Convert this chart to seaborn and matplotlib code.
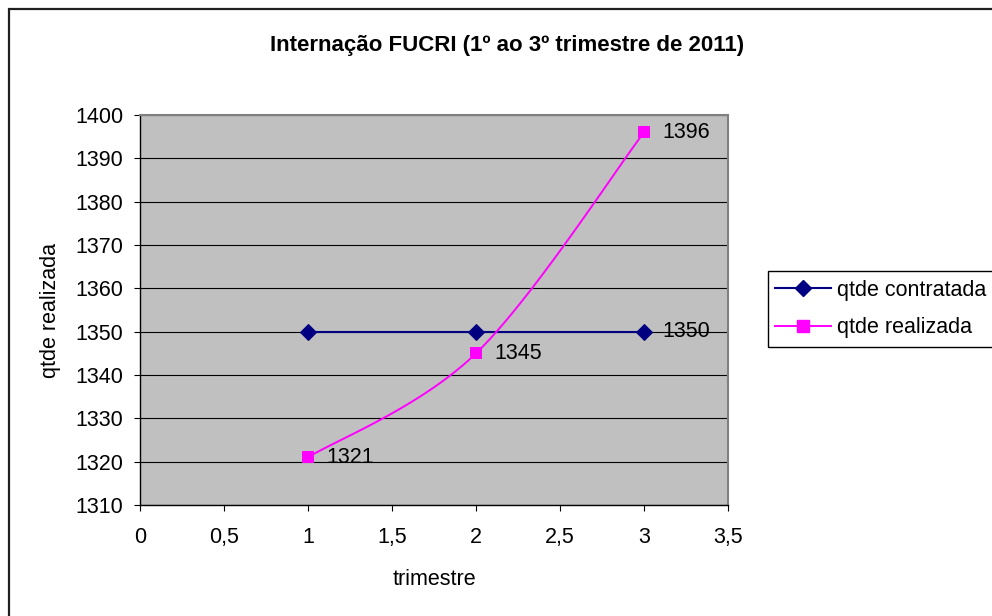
import numpy as np
import pandas as pd
import matplotlib
matplotlib.use("Agg")
import matplotlib.pyplot as plt
import seaborn as sns
from matplotlib.lines import Line2D
from matplotlib.patches import Rectangle
from matplotlib.ticker import FuncFormatter, MultipleLocator

trimestre = [1, 2, 3]
qtde_contratada = [1350, 1350, 1350]
qtde_realizada = [1321, 1345, 1396]
title = "Internação FUCRI (1º ao 3º trimestre de 2011)"

NAVY = "#000080"
PINK = "#FF00FF"
FS = 15.5

plt.rcParams["font.family"] = ["Liberation Sans", "DejaVu Sans"]

df = pd.DataFrame({"trimestre": trimestre,
                   "contratada": qtde_contratada,
                   "realizada": qtde_realizada})


def excel_smooth(xs, ys, n=40):
    # bezier spline like Excel's "smoothed line"
    pts = np.column_stack([xs, ys]).astype(float)
    out = []
    for i in range(len(pts) - 1):
        p0 = pts[max(i - 1, 0)]
        p1 = pts[i]
        p2 = pts[i + 1]
        p3 = pts[min(i + 2, len(pts) - 1)]
        c1 = p1 + (p2 - p0) / 6
        c2 = p2 - (p3 - p1) / 6
        t = np.linspace(0, 1, n)[:, None]
        seg = ((1 - t) ** 3) * p1 + 3 * ((1 - t) ** 2) * t * c1 \
            + 3 * (1 - t) * t ** 2 * c2 + t ** 3 * p2
        out.append(seg)
    seg = np.vstack(out)
    return seg[:, 0], seg[:, 1]


fig = plt.figure(figsize=(9.92, 6.16), dpi=100)
ax = fig.add_axes([140 / 992, 111 / 616, 588 / 992, 390 / 616])
ax.set_facecolor("#C0C0C0")

sns.lineplot(data=df, x="trimestre", y="contratada", ax=ax, color=NAVY,
             marker="D", markersize=8.5, markeredgecolor=NAVY, linewidth=1.5,
             zorder=3)
sx, sy = excel_smooth(df["trimestre"], df["realizada"])
ax.plot(sx, sy, color=PINK, linewidth=1.4, zorder=3)
sns.scatterplot(data=df, x="trimestre", y="realizada", ax=ax, color=PINK,
                marker="s", s=82, edgecolor=PINK, linewidth=0, zorder=4)

for x, y in zip(trimestre, qtde_contratada):
    if x == 3:
        ax.annotate(str(y), (x, y), xytext=(13.5, 0),
                    textcoords="offset points",
                    va="center", ha="left", fontsize=FS, zorder=2)
for x, y in zip(trimestre, qtde_realizada):
    ax.annotate(str(y), (x, y), xytext=(13.5, 0), textcoords="offset points",
                va="center", ha="left", fontsize=FS, zorder=5)

ax.set_xlim(0, 3.5)
ax.set_ylim(1310, 1400)
ax.xaxis.set_major_locator(MultipleLocator(0.5))
ax.yaxis.set_major_locator(MultipleLocator(10))
ax.xaxis.set_major_formatter(FuncFormatter(
    lambda v, p: ("%g" % v).replace(".", ",")))
ax.grid(axis="y", color="black", linewidth=0.8)
ax.grid(axis="x", visible=False)
ax.set_axisbelow(True)
ax.tick_params(axis="y", direction="out", length=4, width=0.8, pad=8,
               labelsize=FS)
ax.tick_params(axis="x", direction="out", length=4, width=0.8, pad=12,
               labelsize=FS)

for side in ["top", "right"]:
    ax.spines[side].set_color("#808080")
    ax.spines[side].set_linewidth(1.5)
for side in ["left", "bottom"]:
    ax.spines[side].set_color("black")
    ax.spines[side].set_linewidth(1.0)

ax.set_xlabel("trimestre", fontsize=FS)
ax.set_ylabel("qtde realizada", fontsize=FS)
ax.xaxis.set_label_coords(0.5, (505 - 569) / 390)
ax.yaxis.set_label_coords((61 - 140) / 588, 0.5)

fig.text(507 / 992, 1 - 45 / 616, title, ha="center", va="center",
         fontsize=16, fontweight="bold")

# chart border (right and bottom are cut off in the original)
fig.patches.append(Rectangle((8.5 / 992, -0.05), 1.1, 1 - 9 / 616 + 0.05,
                             transform=fig.transFigure, fill=False,
                             edgecolor="#202020", linewidth=1.6))
fig.patches.append(Rectangle((768 / 992, 1 - 347 / 616), 0.3, 76 / 616,
                             transform=fig.transFigure, fill=False,
                             edgecolor="black", linewidth=1.0))

handles = [
    Line2D([], [], color=NAVY, marker="D", markersize=8.5, linewidth=1.5),
    Line2D([], [], color=PINK, marker="s", markersize=9, linewidth=1.4),
]
fig.legend(handles, ["qtde contratada", "qtde realizada"],
           loc="center left", bbox_to_anchor=(775 / 992, 1 - 309 / 616),
           frameon=False, fontsize=FS, handlelength=2.6, handletextpad=0.3,
           labelspacing=0.75, borderaxespad=0, borderpad=0)

fig.savefig("out.png", dpi=100)
